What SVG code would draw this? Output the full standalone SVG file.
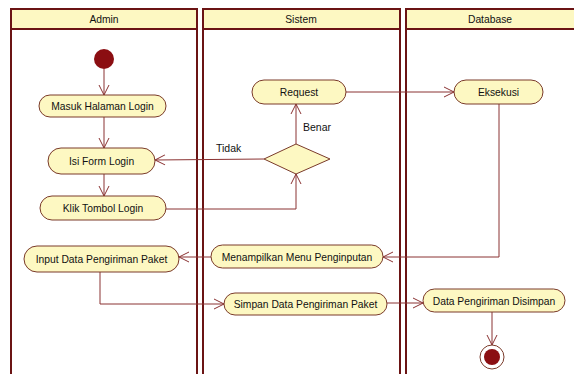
<svg xmlns="http://www.w3.org/2000/svg" width="574" height="374" viewBox="0 0 574 374">
<style>
.lane{fill:#ffffff;stroke:#6b1414;stroke-width:2}
.hdr{fill:#fdf8c2;stroke:#6b1414;stroke-width:2}
.node{fill:#fdf8c2;stroke:#7a3a2a;stroke-width:1}
.t{font-family:"Liberation Sans",Arial,sans-serif;font-size:10.3px;fill:#111;text-anchor:middle}
.lbl{font-family:"Liberation Sans",Arial,sans-serif;font-size:10.5px;fill:#111}
.c{fill:none;stroke:#8a3232;stroke-width:1}
</style>
<defs>
<marker id="arr" viewBox="0 0 12 12" refX="11" refY="6" markerWidth="12" markerHeight="12" markerUnits="userSpaceOnUse" orient="auto">
<path d="M1,1 L11,6 L1,11" fill="none" stroke="#8a3232" stroke-width="1"/>
</marker>
</defs>
<rect width="574" height="374" fill="#ffffff"/>
<g id="lanes">
<g id="lane-admin">
<rect class="lane" x="11" y="9" width="186" height="380"/>
<rect class="hdr" x="11" y="9" width="186" height="20"/>
<text class="t" x="104" y="23">Admin</text>
</g>
<g id="lane-sistem">
<rect class="lane" x="203" y="9" width="197" height="380"/>
<rect class="hdr" x="203" y="9" width="197" height="20"/>
<text class="t" x="301" y="23">Sistem</text>
</g>
<g id="lane-database">
<rect class="lane" x="406" y="9" width="180" height="380"/>
<rect class="hdr" x="406" y="9" width="180" height="20"/>
<text class="t" x="490" y="23">Database</text>
</g>
</g>
<g id="connectors">
<line class="c" x1="104" y1="69" x2="104" y2="95" marker-end="url(#arr)"/>
<line class="c" x1="104" y1="117" x2="104" y2="148" marker-end="url(#arr)"/>
<line class="c" x1="104" y1="174" x2="104" y2="196" marker-end="url(#arr)"/>
<polyline class="c" points="166,209 296,209 296,174" marker-end="url(#arr)"/>
<polyline class="c" points="264,159 155,160" marker-end="url(#arr)"/>
<text class="lbl" x="216" y="152">Tidak</text>
<line class="c" x1="296" y1="144" x2="296" y2="104" marker-end="url(#arr)"/>
<text class="lbl" x="303" y="131">Benar</text>
<line class="c" x1="346" y1="92" x2="454" y2="92" marker-end="url(#arr)"/>
<polyline class="c" points="499,104 499,257 383,257" marker-end="url(#arr)"/>
<line class="c" x1="211" y1="257" x2="179" y2="257" marker-end="url(#arr)"/>
<polyline class="c" points="100,272 100,304 224,304" marker-end="url(#arr)"/>
<line class="c" x1="387" y1="303" x2="423" y2="303" marker-end="url(#arr)"/>
<line class="c" x1="492" y1="312" x2="492" y2="345" marker-end="url(#arr)"/>
</g>
<g id="start"><circle cx="104" cy="59" r="10" fill="#8b0e12"/></g>
<g id="masuk-halaman-login">
<rect class="node" x="39" y="95" width="127" height="22" rx="11"/>
<text class="t" x="102.5" y="110">Masuk Halaman Login</text>
</g>
<g id="isi-form-login">
<rect class="node" x="48" y="148" width="107" height="26" rx="13"/>
<text class="t" x="101.5" y="165">Isi Form Login</text>
</g>
<g id="klik-tombol-login">
<rect class="node" x="40" y="196" width="126" height="24" rx="12"/>
<text class="t" x="103" y="212">Klik Tombol Login</text>
</g>
<g id="input-data">
<rect class="node" x="24" y="246" width="155" height="26" rx="13"/>
<text class="t" x="101.5" y="263">Input Data Pengiriman Paket</text>
</g>
<g id="request">
<rect class="node" x="252" y="80" width="94" height="24" rx="12"/>
<text class="t" x="299" y="96">Request</text>
</g>
<g id="decision">
<polygon class="node" points="264,159 296,144 330,159 296,174"/>
</g>
<g id="menampilkan">
<rect class="node" x="211" y="245" width="172" height="23" rx="11.5"/>
<text class="t" x="297" y="261">Menampilkan Menu Penginputan</text>
</g>
<g id="simpan">
<rect class="node" x="224" y="293" width="163" height="22" rx="11"/>
<text class="t" x="305.5" y="308">Simpan Data Pengiriman Paket</text>
</g>
<g id="eksekusi">
<rect class="node" x="454" y="80" width="89" height="24" rx="12"/>
<text class="t" x="498.5" y="96">Eksekusi</text>
</g>
<g id="data-disimpan">
<rect class="node" x="423" y="289" width="142" height="23" rx="11.5"/>
<text class="t" x="494" y="305">Data Pengiriman Disimpan</text>
</g>
<g id="end">
<circle cx="492" cy="357" r="12" fill="#ffffff" stroke="#7a3a2a" stroke-width="1"/>
<circle cx="492" cy="357" r="8" fill="#8b0e12"/>
</g>
</svg>
